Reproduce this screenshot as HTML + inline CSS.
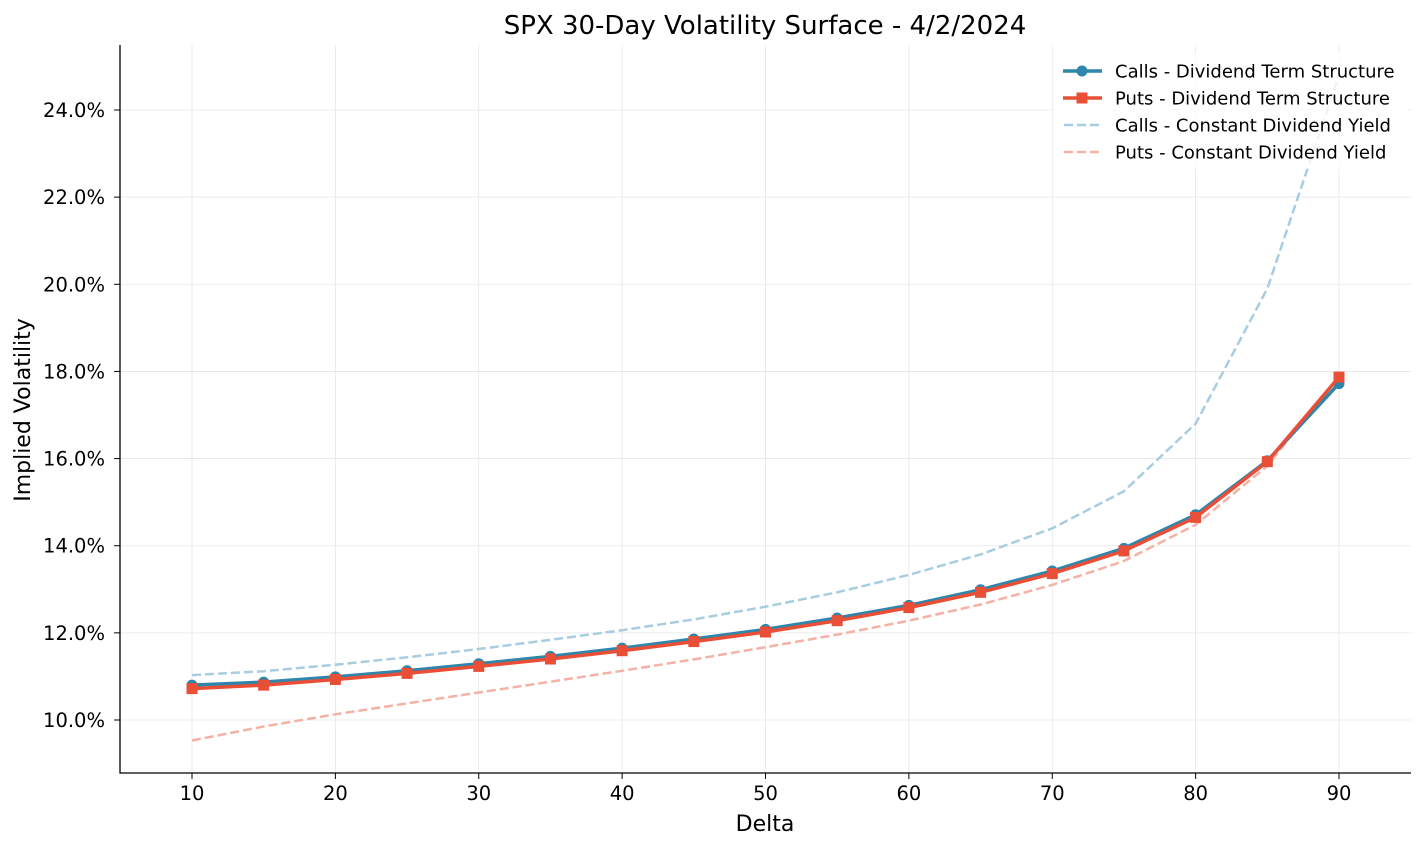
<!DOCTYPE html>
<html><head><meta charset="utf-8"><style>
html,body{margin:0;padding:0;background:#fff;}
svg{display:block;font-family:"DejaVu Sans","Liberation Sans",sans-serif;}
</style></head><body>
<svg id="s" width="1425" height="849" xmlns="http://www.w3.org/2000/svg"></svg>
<script>
const s=document.getElementById('s');
const X=d=>192+(d-10)*1147/80;
const Y=v=>720-(v-10)*610/14;
let h='';
for(let d=10;d<=90;d+=10)h+=`<line x1="${X(d)}" x2="${X(d)}" y1="45" y2="773" stroke="#e6e6e6" stroke-width="0.8"/>`;
for(let v=10;v<=24;v+=2)h+=`<line x1="120" x2="1411" y1="${Y(v)}" y2="${Y(v)}" stroke="#e6e6e6" stroke-width="0.8"/>`;
const ds=[10,15,20,25,30,35,40,45,50,55,60,65,70,75,80,85,90];
const calls=[10.8,10.87,10.99,11.13,11.29,11.46,11.65,11.86,12.08,12.34,12.63,12.99,13.42,13.94,14.71,15.95,17.72];
const puts=[10.72,10.8,10.93,11.07,11.23,11.4,11.59,11.8,12.02,12.28,12.58,12.93,13.36,13.88,14.65,15.93,17.87];
const cc=[11.03,11.12,11.27,11.44,11.63,11.84,12.06,12.31,12.6,12.93,13.33,13.8,14.4,15.25,16.8,19.9,24.8];
const pc=[9.53,9.85,10.13,10.38,10.63,10.88,11.13,11.39,11.67,11.96,12.28,12.65,13.1,13.65,14.48,15.83,17.9];
const pts=a=>a.map((v,i)=>X(ds[i]).toFixed(1)+','+Y(v).toFixed(1)).join(' ');
h+=`<defs><clipPath id="c"><rect x="120" y="45" width="1291" height="728"/></clipPath></defs><g clip-path="url(#c)">`;
h+=`<polyline points="${pts(cc)}" fill="none" stroke="#a8cde0" stroke-width="2.5" stroke-dasharray="9,4"/>`;
h+=`<polyline points="${pts(pc)}" fill="none" stroke="#f4b2a6" stroke-width="2.5" stroke-dasharray="9,4"/>`;
h+=`<polyline points="${pts(calls)}" fill="none" stroke="#2e86ab" stroke-width="3.5"/>`;
calls.forEach((v,i)=>h+=`<circle cx="${X(ds[i])}" cy="${Y(v)}" r="5.5" fill="#2e86ab"/>`);
h+=`<polyline points="${pts(puts)}" fill="none" stroke="#e94f37" stroke-width="3.5"/>`;
puts.forEach((v,i)=>h+=`<rect x="${X(ds[i])-5.5}" y="${Y(v)-5.5}" width="11" height="11" fill="#e94f37"/>`);
h+=`</g>`;
h+=`<line x1="120" y1="45" x2="120" y2="773.5" stroke="#000" stroke-width="1.3"/>`;
h+=`<line x1="119.5" y1="773" x2="1411" y2="773" stroke="#000" stroke-width="1.3"/>`;
for(let d=10;d<=90;d+=10){h+=`<line x1="${X(d)}" x2="${X(d)}" y1="773" y2="779" stroke="#000"/><text x="${X(d)}" y="800" font-size="19.5" text-anchor="middle">${d}</text>`;}
for(let v=10;v<=24;v+=2){h+=`<line x1="114" x2="120" y1="${Y(v)}" y2="${Y(v)}" stroke="#000"/><text x="105" y="${Y(v)+7}" font-size="19.5" text-anchor="end">${v.toFixed(1)}%</text>`;}
h+=`<text x="765" y="831" font-size="22" text-anchor="middle">Delta</text>`;
h+=`<text transform="translate(30,410) rotate(-90)" font-size="22" text-anchor="middle">Implied Volatility</text>`;
h+=`<text x="765" y="34" font-size="26" text-anchor="middle">SPX 30-Day Volatility Surface - 4/2/2024</text>`;
h+=`<rect x="1053" y="53" width="355" height="116" rx="4" fill="#fff" fill-opacity="0.8"/>`;
const L=[["Calls - Dividend Term Structure","#2e86ab","c"],["Puts - Dividend Term Structure","#e94f37","s"],["Calls - Constant Dividend Yield","#a8cde0","d"],["Puts - Constant Dividend Yield","#f4b2a6","d"]];
L.forEach((l,i)=>{const y=71+i*27;
 if(l[2]=='d')h+=`<line x1="1064" x2="1102" y1="${y}" y2="${y}" stroke="${l[1]}" stroke-width="2.5" stroke-dasharray="9,4"/>`;
 else h+=`<line x1="1063" x2="1102" y1="${y}" y2="${y}" stroke="${l[1]}" stroke-width="3.5"/>`;
 if(l[2]=='c')h+=`<circle cx="1082" cy="${y}" r="5.5" fill="${l[1]}"/>`;
 if(l[2]=='s')h+=`<rect x="1076.5" y="${y-5.5}" width="11" height="11" fill="${l[1]}"/>`;
 h+=`<text x="1115" y="${y+6.5}" font-size="18">${l[0]}</text>`;});
s.innerHTML=h;
</script>
</body></html>
